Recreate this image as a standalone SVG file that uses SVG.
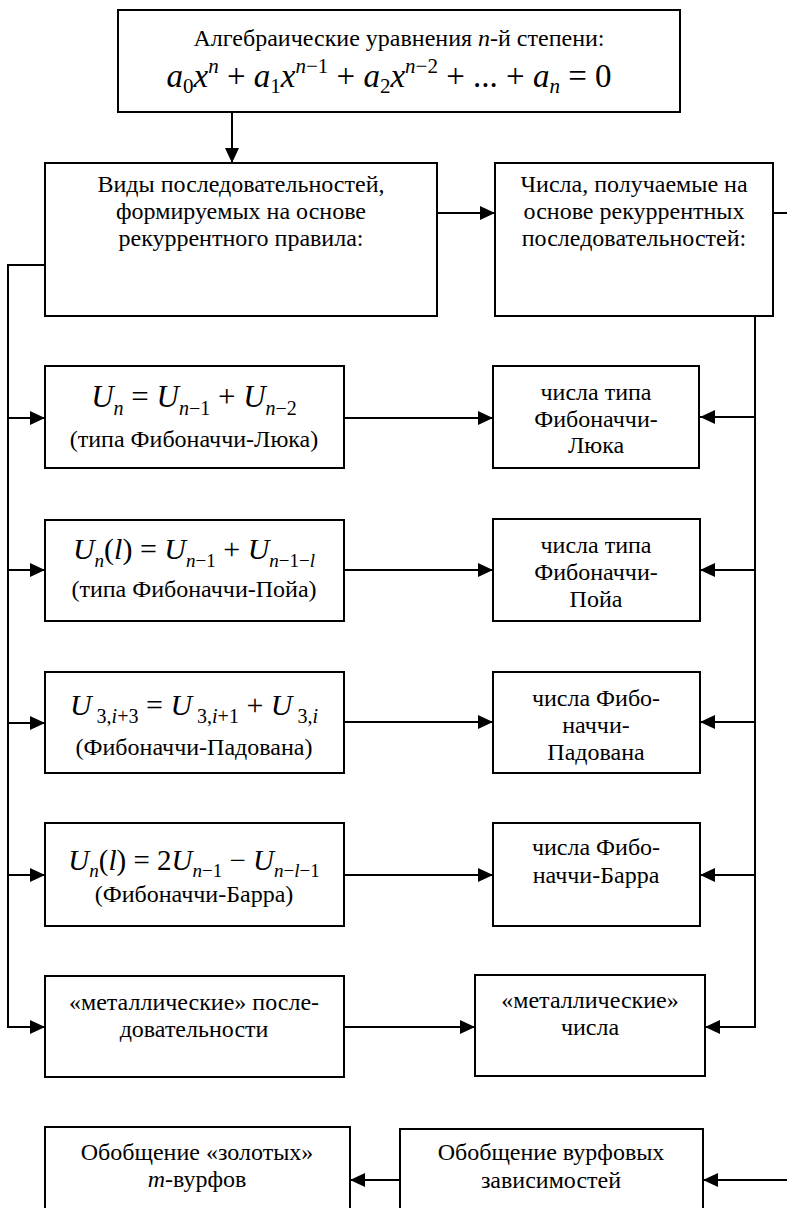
<svg xmlns="http://www.w3.org/2000/svg" width="787" height="1208" viewBox="0 0 787 1208" font-family="Liberation Serif, Times New Roman, serif">
<style>
.box{fill:#fff;stroke:#000;stroke-width:2}
.ln{fill:none;stroke:#000;stroke-width:2}
.t{fill:#000;text-anchor:middle}
.i{font-style:italic}
</style>
<defs>
<marker id="ah" markerUnits="userSpaceOnUse" markerWidth="15" markerHeight="14" refX="15" refY="7" orient="auto"><path d="M0,0 L15,7 L0,14 z" fill="#000"/></marker>
</defs>
<rect width="787" height="1208" fill="#fff"/>
<g id="connectors">
<line class="ln" x1="232" y1="112" x2="232" y2="163" marker-end="url(#ah)"/>
<line class="ln" x1="437" y1="213" x2="495" y2="213" marker-end="url(#ah)"/>
<line class="ln" x1="773" y1="213" x2="787" y2="213"/>
<polyline class="ln" points="45,265 8,265 8,1027 45,1027" marker-end="url(#ah)"/>
<line class="ln" x1="8" y1="418" x2="45" y2="418" marker-end="url(#ah)"/>
<line class="ln" x1="8" y1="570" x2="45" y2="570" marker-end="url(#ah)"/>
<line class="ln" x1="8" y1="723" x2="45" y2="723" marker-end="url(#ah)"/>
<line class="ln" x1="8" y1="875" x2="45" y2="875" marker-end="url(#ah)"/>
<polyline class="ln" points="755,316 755,1027 705,1027" marker-end="url(#ah)"/>
<line class="ln" x1="755" y1="417" x2="700" y2="417" marker-end="url(#ah)"/>
<line class="ln" x1="755" y1="570" x2="700" y2="570" marker-end="url(#ah)"/>
<line class="ln" x1="755" y1="722" x2="700" y2="722" marker-end="url(#ah)"/>
<line class="ln" x1="755" y1="875" x2="700" y2="875" marker-end="url(#ah)"/>
<line class="ln" x1="344" y1="418" x2="493" y2="418" marker-end="url(#ah)"/>
<line class="ln" x1="344" y1="570" x2="493" y2="570" marker-end="url(#ah)"/>
<line class="ln" x1="344" y1="722" x2="493" y2="722" marker-end="url(#ah)"/>
<line class="ln" x1="344" y1="875" x2="493" y2="875" marker-end="url(#ah)"/>
<line class="ln" x1="344" y1="1027" x2="475" y2="1027" marker-end="url(#ah)"/>
<line class="ln" x1="787" y1="1180" x2="703" y2="1180" marker-end="url(#ah)"/>
<line class="ln" x1="400" y1="1180" x2="350" y2="1180" marker-end="url(#ah)"/>
</g>
<g id="n-top">
<rect class="box" x="118" y="10" width="562" height="102"/>
<text class="t" x="399" y="46" font-size="24">Алгебраические уравнения <tspan class="i">n</tspan>-й степени:</text>
<text class="t" x="389" y="87" font-size="33"><tspan class="i">a</tspan><tspan font-size="21" dy="6">0</tspan><tspan class="i" dy="-6">x</tspan><tspan class="i" font-size="21" dy="-14">n</tspan><tspan dy="14"> + </tspan><tspan class="i">a</tspan><tspan font-size="21" dy="6">1</tspan><tspan class="i" dy="-6">x</tspan><tspan font-size="21" dy="-14"><tspan class="i">n</tspan>−1</tspan><tspan dy="14"> + </tspan><tspan class="i">a</tspan><tspan font-size="21" dy="6">2</tspan><tspan class="i" dy="-6">x</tspan><tspan font-size="21" dy="-14"><tspan class="i">n</tspan>−2</tspan><tspan dy="14"> + ... + </tspan><tspan class="i">a</tspan><tspan class="i" font-size="21" dy="6">n</tspan><tspan dy="-6"> = 0</tspan></text>
</g>
<g id="n-types">
<rect class="box" x="45" y="163" width="392" height="153"/>
<text class="t" x="241" y="192" font-size="24">Виды последовательностей,</text>
<text class="t" x="241" y="219" font-size="24">формируемых на основе</text>
<text class="t" x="241" y="246" font-size="24">рекуррентного правила:</text>
</g>
<g id="n-numbers">
<rect class="box" x="495" y="163" width="278" height="153"/>
<text class="t" x="634" y="192" font-size="24">Числа, получаемые на</text>
<text class="t" x="634" y="219" font-size="24">основе рекуррентных</text>
<text class="t" x="634" y="246" font-size="24">последовательностей:</text>
</g>
<g id="n-fl">
<rect class="box" x="45" y="366" width="299" height="102"/>
<text class="t" x="194" y="407" font-size="31"><tspan class="i">U</tspan><tspan class="i" font-size="20" dy="8">n</tspan><tspan dy="-8"> = </tspan><tspan class="i">U</tspan><tspan font-size="20" dy="8"><tspan class="i">n</tspan>−1</tspan><tspan dy="-8"> + </tspan><tspan class="i">U</tspan><tspan font-size="20" dy="8"><tspan class="i">n</tspan>−2</tspan></text>
<text class="t" x="194" y="447" font-size="24">(типа Фибоначчи-Люка)</text>
</g>
<g id="n-fl-num">
<rect class="box" x="493" y="366" width="206" height="102"/>
<text class="t" x="596" y="400" font-size="24">числа типа</text>
<text class="t" x="596" y="427" font-size="24">Фибоначчи-</text>
<text class="t" x="596" y="453" font-size="24">Люка</text>
</g>
<g id="n-fp">
<rect class="box" x="45" y="520" width="299" height="101"/>
<text class="t" x="194" y="559" font-size="30"><tspan class="i">U</tspan><tspan class="i" font-size="19" dy="8">n</tspan><tspan dy="-8">(</tspan><tspan class="i">l</tspan><tspan>) = </tspan><tspan class="i">U</tspan><tspan font-size="19" dy="8"><tspan class="i">n</tspan>−1</tspan><tspan dy="-8"> + </tspan><tspan class="i">U</tspan><tspan font-size="19" dy="8"><tspan class="i">n</tspan>−1−<tspan class="i">l</tspan></tspan></text>
<text class="t" x="194" y="597" font-size="24">(типа Фибоначчи-Пойа)</text>
</g>
<g id="n-fp-num">
<rect class="box" x="493" y="519" width="207" height="102"/>
<text class="t" x="596" y="553" font-size="24">числа типа</text>
<text class="t" x="596" y="580" font-size="24">Фибоначчи-</text>
<text class="t" x="596" y="607" font-size="24">Пойа</text>
</g>
<g id="n-pad">
<rect class="box" x="45" y="672" width="299" height="101"/>
<text class="t" x="194" y="715" font-size="30"><tspan class="i">U</tspan><tspan font-size="20" dy="8"> 3,<tspan class="i">i</tspan>+3</tspan><tspan dy="-8"> = </tspan><tspan class="i">U</tspan><tspan font-size="20" dy="8"> 3,<tspan class="i">i</tspan>+1</tspan><tspan dy="-8"> + </tspan><tspan class="i">U</tspan><tspan font-size="20" dy="8"> 3,<tspan class="i">i</tspan></tspan></text>
<text class="t" x="194" y="755" font-size="24">(Фибоначчи-Падована)</text>
</g>
<g id="n-pad-num">
<rect class="box" x="493" y="672" width="207" height="101"/>
<text class="t" x="596" y="706" font-size="24">числа Фибо-</text>
<text class="t" x="596" y="733" font-size="24">наччи-</text>
<text class="t" x="596" y="760" font-size="24">Падована</text>
</g>
<g id="n-barr">
<rect class="box" x="45" y="823" width="299" height="103"/>
<text class="t" x="194" y="870" font-size="29"><tspan class="i">U</tspan><tspan class="i" font-size="19" dy="7">n</tspan><tspan dy="-7">(</tspan><tspan class="i">l</tspan><tspan>) = 2</tspan><tspan class="i">U</tspan><tspan font-size="19" dy="7"><tspan class="i">n</tspan>−1</tspan><tspan dy="-7"> − </tspan><tspan class="i">U</tspan><tspan font-size="19" dy="7"><tspan class="i">n</tspan>−<tspan class="i">l</tspan>−1</tspan></text>
<text class="t" x="194" y="902" font-size="24">(Фибоначчи-Барра)</text>
</g>
<g id="n-barr-num">
<rect class="box" x="493" y="823" width="207" height="103"/>
<text class="t" x="596" y="855" font-size="24">числа Фибо-</text>
<text class="t" x="596" y="883" font-size="24">наччи-Барра</text>
</g>
<g id="n-metal">
<rect class="box" x="45" y="976" width="299" height="101"/>
<text class="t" x="194" y="1010" font-size="24">«металлические» после-</text>
<text class="t" x="194" y="1037" font-size="24">довательности</text>
</g>
<g id="n-metal-num">
<rect class="box" x="475" y="975" width="230" height="101"/>
<text class="t" x="590" y="1008" font-size="24">«металлические»</text>
<text class="t" x="590" y="1035" font-size="24">числа</text>
</g>
<g id="n-golden">
<rect class="box" x="45" y="1127" width="305" height="100"/>
<text class="t" x="197" y="1160" font-size="24">Обобщение «золотых»</text>
<text class="t" x="197" y="1187" font-size="24"><tspan class="i">m</tspan>-вурфов</text>
</g>
<g id="n-wurf">
<rect class="box" x="400" y="1129" width="303" height="100"/>
<text class="t" x="551" y="1160" font-size="24">Обобщение вурфовых</text>
<text class="t" x="551" y="1188" font-size="24">зависимостей</text>
</g>
</svg>
